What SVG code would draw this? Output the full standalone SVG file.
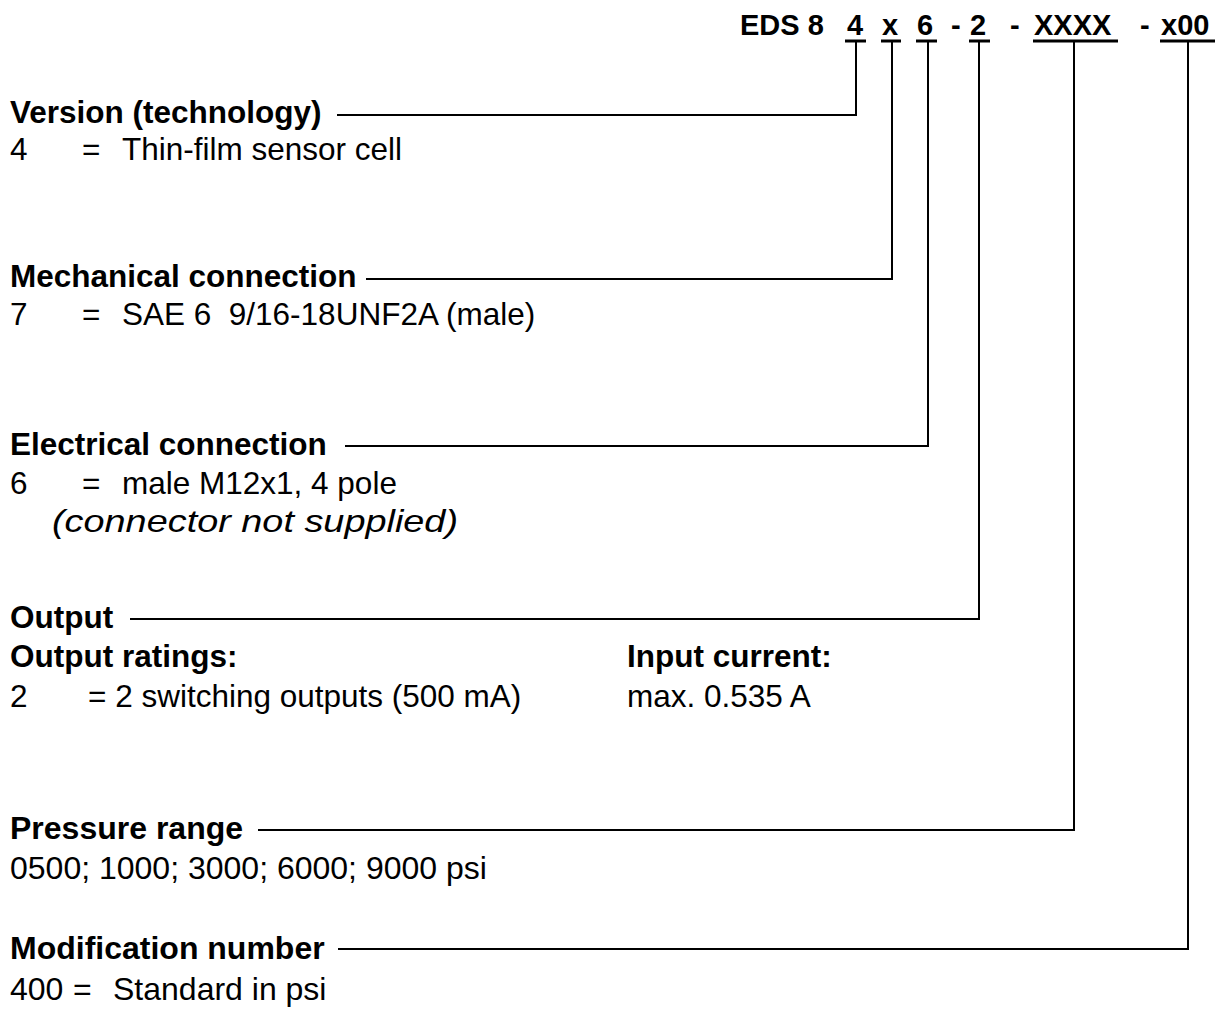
<svg xmlns="http://www.w3.org/2000/svg" width="1229" height="1019" viewBox="0 0 1229 1019">
<style>
text{font-family:"Liberation Sans",Arial,sans-serif;font-size:31.5px;fill:#000}
.b{font-weight:bold}
.i{font-style:italic}
.lg{font-size:32px}
.code{font-weight:bold;font-size:29px}
.ln{stroke:#000;stroke-width:2;fill:none}
.ul{stroke:#000;stroke-width:3}
</style>
<rect width="1229" height="1019" fill="#fff"/>
<g id="code">
<text class="code" x="740" y="35">EDS 8</text>
<text class="code" x="847" y="35">4</text>
<text class="code" x="882" y="35">x</text>
<text class="code" x="917" y="35">6</text>
<text class="code" x="951" y="35">-</text>
<text class="code" x="970" y="35">2</text>
<text class="code" x="1010" y="35">-</text>
<text class="code" x="1034" y="35">XXXX</text>
<text class="code" x="1140" y="35">-</text>
<text class="code" x="1161" y="35">x00</text>
<line class="ul" x1="845" y1="41" x2="866" y2="41"/>
<line class="ul" x1="881" y1="41" x2="901" y2="41"/>
<line class="ul" x1="916" y1="41" x2="937" y2="41"/>
<line class="ul" x1="969" y1="41" x2="990" y2="41"/>
<line class="ul" x1="1033" y1="41" x2="1118" y2="41"/>
<line class="ul" x1="1160" y1="41" x2="1215" y2="41"/>
</g>
<g id="connectors">
<polyline class="ln" points="337,115 856,115 856,41"/>
<polyline class="ln" points="366,279 892,279 892,41"/>
<polyline class="ln" points="345,446 928,446 928,41"/>
<polyline class="ln" points="130,619 979,619 979,41"/>
<polyline class="ln" points="258,830 1074,830 1074,41"/>
<polyline class="ln" points="338,949 1188,949 1188,41"/>
</g>
<g id="version">
<text class="b" x="10" y="123">Version (technology)</text>
<text x="10" y="160">4</text>
<text x="82" y="160">=</text>
<text x="122" y="160">Thin-film sensor cell</text>
</g>
<g id="mechanical">
<text class="b" x="10" y="287">Mechanical connection</text>
<text x="10" y="325">7</text>
<text x="82" y="325">=</text>
<text x="122" y="325" xml:space="preserve">SAE 6  9/16-18UNF2A (male)</text>
</g>
<g id="electrical">
<text class="b" x="10" y="455">Electrical connection</text>
<text x="10" y="494">6</text>
<text x="82" y="494">=</text>
<text x="122" y="494">male M12x1, 4 pole</text>
<text class="i" x="52" y="532" font-size="33" textLength="406" lengthAdjust="spacingAndGlyphs">(connector not supplied)</text>
</g>
<g id="output">
<text class="b" x="10" y="628">Output</text>
<text class="b" x="10" y="667">Output ratings:</text>
<text x="10" y="707">2</text>
<text x="88" y="707">= 2 switching outputs (500 mA)</text>
<text class="b" x="627" y="667">Input current:</text>
<text x="627" y="707">max. 0.535 A</text>
</g>
<g id="pressure">
<text class="b lg" x="10" y="839">Pressure range</text>
<text class="lg" x="10" y="879">0500; 1000; 3000; 6000; 9000 psi</text>
</g>
<g id="modification">
<text class="b lg" x="10" y="959">Modification number</text>
<text class="lg" x="10" y="1000">400</text>
<text class="lg" x="73" y="1000">=</text>
<text class="lg" x="113" y="1000">Standard in psi</text>
</g>
</svg>
